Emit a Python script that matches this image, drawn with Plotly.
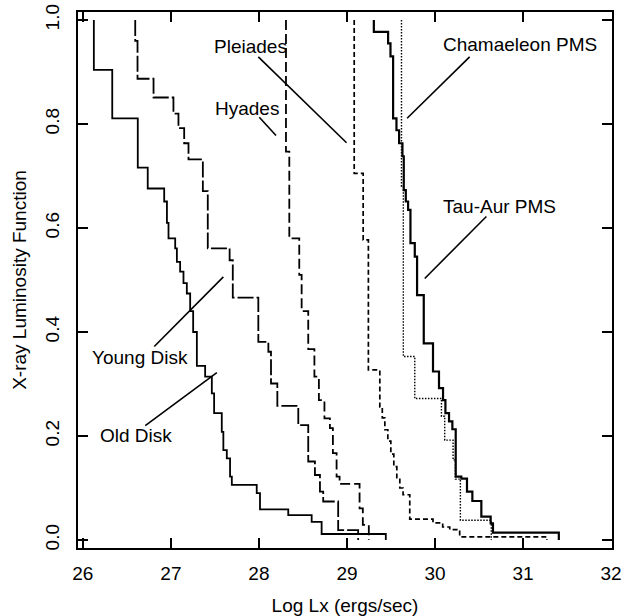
import plotly.graph_objects as go

# ---- data (Log Lx, cumulative X-ray luminosity function) ----
old_disk_x = [26.125, 26.125, 26.334, 26.624, 26.737, 26.924, 26.955, 26.973, 27.049, 27.068,
              27.105, 27.143, 27.181, 27.219, 27.253, 27.295, 27.389, 27.465, 27.491, 27.578,
              27.596, 27.635, 27.672, 27.692, 27.975, 28.012, 28.333, 28.599, 28.712, 29.441]
old_disk_y = [1.0, 0.904, 0.811, 0.716, 0.676, 0.651, 0.61, 0.58, 0.561, 0.535,
              0.516, 0.494, 0.474, 0.44, 0.40, 0.335, 0.314, 0.282, 0.244, 0.208,
              0.173, 0.157, 0.122, 0.106, 0.09, 0.059, 0.048, 0.035, 0.0115, 0.0]

young_disk_x = [26.595, 26.595, 26.621, 26.803, 27.029, 27.086, 27.151, 27.200, 27.363, 27.419,
                27.667, 27.703, 27.993, 28.107, 28.137, 28.209, 28.447, 28.560, 28.636, 28.693,
                28.730, 28.900, 29.127]
young_disk_y = [1.0, 0.96, 0.887, 0.851, 0.82, 0.792, 0.763, 0.732, 0.671, 0.561,
                0.538, 0.466, 0.381, 0.362, 0.301, 0.258, 0.221, 0.151, 0.125, 0.093,
                0.074, 0.019, 0.0]

hyades_x = [28.307, 28.307, 28.345, 28.458, 28.485, 28.560, 28.630, 28.681, 28.744, 28.806,
            28.840, 28.882, 28.916, 29.143, 29.180, 29.248]
hyades_y = [1.0, 0.747, 0.58, 0.51, 0.44, 0.367, 0.314, 0.269, 0.234, 0.215,
            0.167, 0.122, 0.108, 0.061, 0.029, 0.0]

pleiades_x = [29.082, 29.082, 29.184, 29.243, 29.373, 29.401, 29.430, 29.464, 29.498, 29.532,
              29.566, 29.600, 29.637, 29.713, 29.977, 30.087, 30.167, 30.280, 31.270]
pleiades_y = [1.0, 0.705, 0.577, 0.327, 0.256, 0.235, 0.212, 0.19, 0.165, 0.141,
              0.12, 0.10, 0.087, 0.04, 0.033, 0.025, 0.02, 0.006, 0.0]

tau_aur_x = [29.305, 29.305, 29.467, 29.494, 29.524, 29.562, 29.592, 29.630, 29.645, 29.668,
             29.694, 29.721, 29.770, 29.796, 29.872, 29.977, 30.045, 30.091, 30.118, 30.159,
             30.197, 30.235, 30.299, 30.363, 30.424, 30.526, 30.632, 30.658, 31.406]
tau_aur_y = [1.0, 0.977, 0.955, 0.93, 0.811, 0.788, 0.763, 0.738, 0.673, 0.651,
             0.635, 0.571, 0.545, 0.471, 0.378, 0.324, 0.292, 0.269, 0.244, 0.228,
             0.213, 0.122, 0.118, 0.093, 0.075, 0.045, 0.032, 0.014, 0.0]

chamaeleon_x = [29.619, 29.619, 29.640, 29.770, 30.073, 30.110, 30.205, 30.231, 30.288, 30.639]
chamaeleon_y = [1.0, 0.68, 0.353, 0.272, 0.238, 0.192, 0.154, 0.117, 0.038, 0.0]

x_ticks = [26, 27, 28, 29, 30, 31, 32]
y_ticks = [0.0, 0.2, 0.4, 0.6, 0.8, 1.0]
y_tick_labels = ["0.0", "0.2", "0.4", "0.6", "0.8", "1.0"]

FONT = "Liberation Sans, Arial, Helvetica, sans-serif"
FS = 19

series = [
    ("Old Disk", old_disk_x, old_disk_y, "solid", 1.8),
    ("Young Disk", young_disk_x, young_disk_y, "16px,3px", 1.8),
    ("Hyades", hyades_x, hyades_y, "10px,4px", 1.8),
    ("Pleiades", pleiades_x, pleiades_y, "5px,3px", 1.7),
    ("Tau-Aur PMS", tau_aur_x, tau_aur_y, "solid", 2.2),
    ("Chamaeleon PMS", chamaeleon_x, chamaeleon_y, "1.5px,1.5px", 1.4),
]

fig = go.Figure()
for name, xs, ys, dash, w in series:
    fig.add_trace(go.Scatter(x=xs, y=ys, mode="lines", name=name,
                             line=dict(shape="hv", color="black", width=w, dash=dash),
                             showlegend=False))

# labels with leader lines
labels = [
    ("Pleiades", 27.908, 0.949, (27.993, 0.929, 28.995, 0.764)),
    ("Hyades", 27.859, 0.830, (28.004, 0.813, 28.194, 0.778)),
    ("Young Disk", 26.652, 0.351, (26.811, 0.372, 27.596, 0.506)),
    ("Old Disk", 26.609, 0.2006, (26.709, 0.220, 27.522, 0.322)),
    ("Chamaeleon PMS", 30.960, 0.952, (30.393, 0.929, 29.683, 0.811)),
    ("Tau-Aur PMS", 30.737, 0.641, (30.583, 0.622, 29.883, 0.503)),
]
for text, tx, ty, (x0, y0, x1, y1) in labels:
    fig.add_annotation(x=tx, y=ty, xref="x", yref="y", text=text, showarrow=False,
                       font=dict(family=FONT, size=FS, color="black"),
                       xanchor="center", yanchor="middle")
    fig.add_shape(type="line", x0=x0, y0=y0, x1=x1, y1=y1, xref="x", yref="y",
                  line=dict(color="black", width=1.6))

fig.update_layout(
    width=621, height=616,
    margin=dict(l=78, r=9, t=12, b=68),
    paper_bgcolor="white", plot_bgcolor="white",
    font=dict(family=FONT, size=FS, color="black"),
)
fig.update_xaxes(range=[25.945, 32.01], tickvals=x_ticks, ticktext=[str(v) for v in x_ticks],
                 automargin=False, ticklabeloverflow="allow",
                 showgrid=False, zeroline=False, showline=True, linecolor="black", linewidth=1.6,
                 mirror="ticks", ticks="inside", ticklen=10, tickwidth=1.6, tickcolor="black",
                 ticklabelstandoff=7,
                 title=dict(text="Log Lx (ergs/sec)", font=dict(size=FS), standoff=21))
fig.update_yaxes(range=[-0.01538, 1.01538], tickvals=y_ticks, ticktext=y_tick_labels,
                 tickangle=-90, automargin=False, ticklabeloverflow="allow",
                 showgrid=False, zeroline=False, showline=True, linecolor="black", linewidth=1.6,
                 mirror="ticks", ticks="inside", ticklen=10, tickwidth=1.6, tickcolor="black",
                 ticklabelstandoff=10,
                 title=dict(text="X-ray Luminosity Function", font=dict(size=FS), standoff=10))

# remove the default 8px page margin so the figure fills the window exactly
fig.write_html("out.html", config={"displayModeBar": False},
               post_script="document.body.style.margin='0px';")
